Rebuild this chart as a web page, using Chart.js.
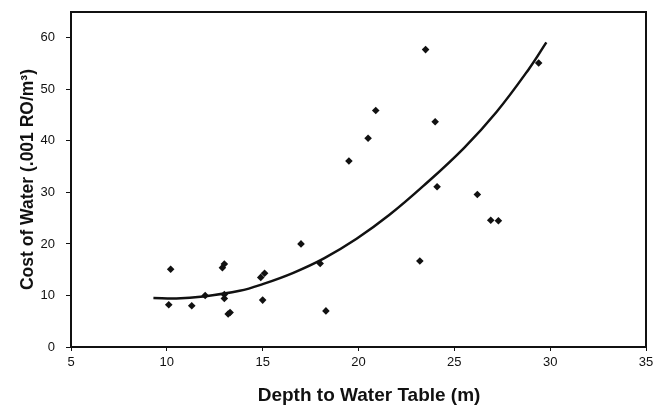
<!DOCTYPE html>
<html lang="en">
<head>
  <meta charset="UTF-8">
  <title>Cost of Water vs Depth to Water Table</title>
  <script src="https://cdn.jsdelivr.net/npm/chart.js"></script>
  <style>
    html, body { margin: 0; padding: 0; background: #fff; }
    #wrap { width: 654px; height: 407px; }
  </style>
</head>
<body>
  <div id="wrap"><canvas id="chart" width="654" height="407"></canvas></div>
  <script>
    // observed points: depth (m) and cost
    const depth = [10.2, 10.1, 11.3, 12.0, 12.9, 13.0, 13.0, 13.0, 13.2, 13.3, 14.9, 15.1, 15.0,
                   17.0, 18.0, 18.3, 19.5, 20.5, 20.9, 23.2, 23.5, 24.0, 24.1, 26.2, 26.9, 27.3, 29.4];
    const cost  = [15.1, 8.2, 8.0, 10.0, 15.4, 16.1, 10.2, 9.4, 6.4, 6.7, 13.5, 14.3, 9.1,
                   20.0, 16.2, 7.0, 36.1, 40.5, 45.9, 16.7, 57.7, 43.7, 31.1, 29.6, 24.6, 24.5, 55.1];

    // trend curve
    const curveX = [9.3, 10.5, 11.9, 13.8, 15.0, 16.6, 18.2, 19.9, 21.6, 23.4, 25.5, 27.2, 28.9, 29.8];
    const curveY = [9.5, 9.4, 9.8, 10.9, 12.2, 14.4, 17.2, 21.0, 25.6, 31.3, 38.6, 45.6, 54.0, 59.1];

    const xTicks = [5, 10, 15, 20, 25, 30, 35];
    const yTicks = [0, 10, 20, 30, 40, 50, 60];

    const font = "'Liberation Sans', Arial, sans-serif";

    const frame = {
      id: 'frame',
      afterDraw(chart) {
        const { ctx, chartArea: a } = chart;
        ctx.save();
        ctx.strokeStyle = '#111';
        ctx.lineWidth = 2;
        ctx.strokeRect(a.left, a.top, a.right - a.left, a.bottom - a.top);
        ctx.restore();
      }
    };

    new Chart(document.getElementById('chart'), {
      type: 'scatter',
      data: {
        datasets: [
          {
            label: 'points',
            data: depth.map((d, i) => ({ x: d, y: cost[i] })),
            pointStyle: 'rectRot',
            pointRadius: 3.8,
            backgroundColor: '#111',
            borderColor: '#111',
            borderWidth: 0
          },
          {
            label: 'trend',
            type: 'line',
            data: curveX.map((d, i) => ({ x: d, y: curveY[i] })),
            borderColor: '#111',
            borderWidth: 2.5,
            pointRadius: 0,
            tension: 0.4,
            fill: false
          }
        ]
      },
      options: {
        responsive: false,
        animation: false,
        layout: { padding: { top: 12, right: 8, left: 18, bottom: 0 } },
        plugins: { legend: { display: false }, tooltip: { enabled: false } },
        scales: {
          x: {
            type: 'linear',
            min: 5, max: 35,
            afterBuildTicks: s => { s.ticks = xTicks.map(v => ({ value: v })); },
            afterFit: s => { s.height = 60; s.paddingLeft = 0; s.paddingRight = 0; },
            grid: { drawOnChartArea: false, drawTicks: true, tickLength: 4, color: '#111' },
            border: { color: '#111', width: 2 },
            ticks: { color: '#111', font: { family: font, size: 13 }, padding: 4, maxRotation: 0 },
            title: { display: true, text: '    Depth to Water Table (m)', color: '#111',
                     font: { family: font, size: 19, weight: 'bold' }, padding: { top: 8, bottom: 0 } }
          },
          y: {
            min: 0, max: 65,
            afterBuildTicks: s => { s.ticks = yTicks.map(v => ({ value: v })); },
            afterFit: s => { s.width = 53; s.paddingTop = 0; s.paddingBottom = 0; },
            grid: { drawOnChartArea: false, drawTicks: true, tickLength: 5, color: '#111' },
            border: { color: '#111', width: 2 },
            ticks: { color: '#111', font: { family: font, size: 13 }, padding: 11 },
            title: { display: true, text: 'Cost of Water (.001 RO/m³)', color: '#111',
                     font: { family: font, size: 17.5, weight: 'bold' }, padding: { top: 0, bottom: 4 } }
          }
        }
      },
      plugins: [frame]
    });
  </script>
</body>
</html>
